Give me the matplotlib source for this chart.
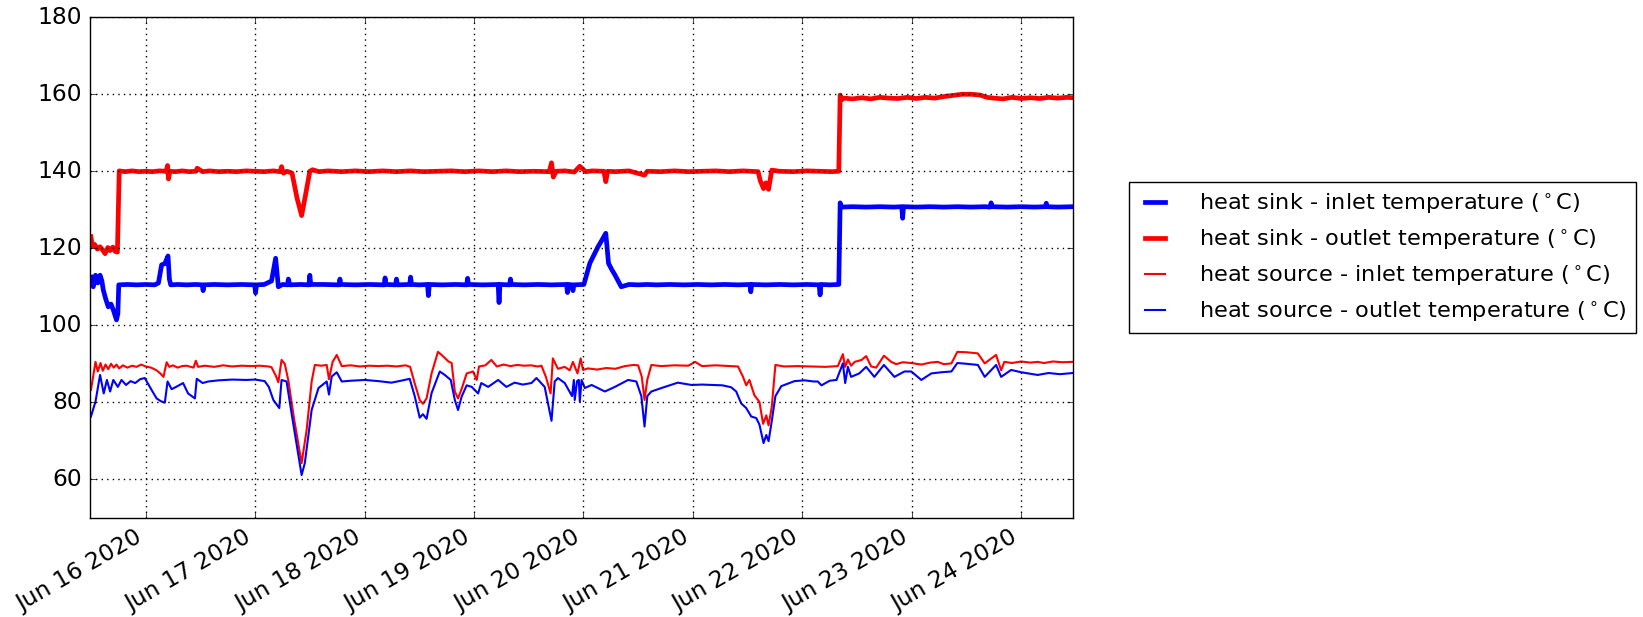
import numpy as np
import matplotlib
matplotlib.use("Agg")
import matplotlib.pyplot as plt
import matplotlib.dates as mdates

# ---- data: hours since 2020-06-16 00:00 and temperatures (°C) ----
sink_out_h = [-12.0, -11.7, -11.2, -10.6, -10.0, -9.4, -8.9, -8.3, -7.8, -7.2,
              -6.7, -6.2, -6.0, -5.8, -4.5, -3.0, -1.5, 0.0, 1.5, 3.0,
              4.5, 4.8, 5.0, 5.3, 6.5, 8.0, 9.5, 11.0, 11.3, 12.5,
              14.0, 16.0, 18.0, 20.0, 22.0, 24.0, 26.0, 28.0, 29.5, 29.8,
              30.2, 31.0, 32.1, 33.2, 34.2, 35.0, 36.0, 36.6, 38.0, 40.0,
              43.0, 46.0, 49.0, 52.0, 55.0, 58.0, 61.0, 64.0, 67.0, 70.0,
              73.0, 76.0, 79.0, 82.0, 85.0, 88.5, 89.0, 89.4, 90.0, 92.0,
              94.0, 95.2, 96.5, 98.0, 100.5, 100.9, 101.3, 103.0, 106.0, 109.4,
              110.0, 113.0, 116.0, 119.0, 122.0, 125.0, 128.0, 131.0, 134.3, 134.8,
              135.5, 136.0, 136.6, 137.3, 139.0, 142.0, 145.0, 148.0, 150.5, 152.0,
              152.3, 152.6, 153.2, 155.0, 157.0, 159.0, 161.0, 163.0, 165.0, 167.0,
              169.0, 171.0, 173.0, 175.0, 177.0, 179.0, 181.0, 183.0, 184.5, 186.0,
              188.0, 190.0, 192.0, 194.0, 196.0, 198.0, 200.0, 202.0, 203.3]
sink_out_v = [123.0, 120.5, 121.0, 119.8, 120.4, 119.5, 118.6, 120.2, 119.4, 120.3,
              119.2, 119.0, 130.0, 140.1, 139.9, 140.1, 139.9, 140.0, 139.9, 140.1,
              140.0, 141.5, 138.0, 140.0, 139.9, 140.1, 139.9, 140.0, 140.8, 139.9,
              140.1, 139.9, 140.0, 139.9, 140.1, 140.0, 139.9, 140.1, 139.9, 141.2,
              139.5, 140.0, 139.5, 133.0, 128.5, 133.5, 140.0, 140.4, 139.9, 140.1,
              139.9, 140.1, 139.9, 140.1, 139.9, 140.1, 139.9, 140.0, 140.1, 139.9,
              140.1, 139.9, 140.1, 139.9, 140.0, 139.9, 142.2, 138.5, 140.0, 140.1,
              139.8, 141.3, 139.9, 140.1, 140.0, 137.3, 140.0, 139.9, 140.1, 139.0,
              140.0, 139.9, 140.1, 139.9, 140.0, 140.1, 139.9, 140.1, 139.9, 137.5,
              135.5, 137.0, 135.3, 140.3, 140.0, 139.9, 140.1, 140.0, 139.9, 140.0,
              159.8, 158.6, 159.0, 158.8, 159.1, 158.8, 159.2, 159.0, 158.9, 159.2,
              158.9, 159.2, 159.0, 159.4, 159.7, 160.0, 160.0, 159.8, 159.2, 159.0,
              158.8, 159.2, 158.9, 159.1, 158.9, 159.2, 159.0, 159.2, 159.1]

sink_in_h = [-12.0, -11.5, -11.0, -10.5, -10.0, -9.6, -9.3, -8.8, -8.2, -7.6,
             -7.1, -6.7, -6.4, -6.1, -5.9, -4.0, -2.0, 0.0, 2.0, 2.8,
             3.5, 4.2, 4.9, 5.2, 5.5, 7.0, 9.0, 11.0, 12.4, 12.6,
             12.8, 15.0, 18.0, 21.0, 23.9, 24.1, 24.3, 26.0, 27.6, 28.5,
             29.1, 30.0, 31.1, 31.3, 31.6, 34.0, 35.8, 36.0, 36.2, 39.0,
             42.4, 42.6, 42.8, 46.0, 49.0, 52.3, 52.5, 52.7, 54.8, 55.0,
             55.2, 57.9, 58.1, 58.3, 60.0, 61.8, 62.0, 62.2, 65.0, 68.0,
             70.4, 70.6, 70.8, 74.0, 77.3, 77.5, 77.7, 79.8, 80.0, 80.2,
             83.0, 86.0, 89.0, 92.3, 92.5, 92.7, 93.5, 93.7, 93.9, 96.1,
             97.4, 98.4, 99.2, 100.0, 100.9, 101.5, 102.2, 102.9, 104.3, 106.0,
             108.0, 110.0, 112.0, 115.0, 118.0, 121.0, 124.0, 127.0, 130.0, 132.5,
             132.7, 132.9, 136.0, 139.0, 142.0, 145.0, 147.7, 147.9, 148.1, 150.0,
             152.0, 152.3, 152.6, 155.0, 158.0, 161.0, 164.0, 165.8, 166.0, 166.2,
             169.0, 172.0, 175.0, 178.0, 181.0, 184.0, 185.2, 185.4, 185.6, 189.0,
             192.0, 195.0, 197.3, 197.5, 197.7, 200.0, 203.3]
sink_in_v = [112.5, 110.0, 113.0, 111.0, 113.0, 111.5, 109.2, 107.0, 104.8, 105.5,
             104.0, 102.5, 101.4, 103.0, 110.5, 110.6, 110.5, 110.6, 110.5, 111.0,
             115.7, 116.0, 118.0, 112.0, 110.5, 110.6, 110.5, 110.6, 110.5, 109.0,
             110.5, 110.6, 110.5, 110.6, 110.5, 108.4, 110.5, 110.6, 111.5, 117.4,
             110.0, 110.6, 110.5, 112.0, 110.5, 110.6, 110.5, 113.0, 110.6, 110.6,
             110.5, 112.0, 110.6, 110.5, 110.6, 110.5, 112.3, 110.6, 110.5, 112.0,
             110.5, 110.6, 112.5, 110.6, 110.5, 110.6, 107.7, 110.6, 110.5, 110.6,
             110.5, 112.2, 110.6, 110.5, 110.6, 105.9, 110.6, 110.5, 112.0, 110.6,
             110.5, 110.6, 110.5, 110.6, 108.5, 110.6, 110.5, 109.0, 110.5, 110.6,
             116.1, 118.5, 120.4, 122.0, 123.9, 116.1, 114.5, 113.1, 110.0, 110.6,
             110.5, 110.6, 110.5, 110.6, 110.5, 110.6, 110.5, 110.6, 110.5, 110.6,
             108.7, 110.6, 110.5, 110.6, 110.5, 110.6, 110.5, 107.9, 110.6, 110.5,
             110.6, 131.8, 130.7, 130.8, 130.7, 130.8, 130.7, 130.8, 127.8, 130.8,
             130.7, 130.8, 130.7, 130.8, 130.7, 130.8, 130.7, 131.8, 130.8, 130.7,
             130.8, 130.7, 130.8, 131.7, 130.8, 130.7, 130.8]

src_in_h = [-12.0, -11.0, -10.5, -9.9, -9.4, -8.8, -8.2, -7.6, -7.0, -6.4,
            -5.8, -5.0, -4.0, -3.0, -2.0, -1.0, 0.0, 1.2, 2.4, 3.2,
            3.9, 4.6, 5.2, 6.0, 7.0, 8.0, 9.0, 10.5, 11.0, 11.5,
            13.0, 15.0, 17.0, 19.0, 21.0, 23.0, 25.0, 27.0, 27.6, 28.5,
            29.1, 29.8, 30.5, 31.3, 32.5, 34.2, 35.3, 36.4, 37.1, 38.5,
            39.7, 40.2, 41.0, 41.9, 43.0, 45.0, 47.0, 49.0, 51.0, 53.0,
            55.0, 57.0, 58.0, 59.0, 60.1, 60.8, 61.6, 62.7, 64.1, 64.9,
            66.4, 67.1, 67.8, 68.5, 69.3, 70.4, 71.8, 72.6, 73.1, 74.5,
            75.8, 77.0, 78.5, 80.0, 81.5, 83.0, 84.5, 86.0, 86.8, 87.8,
            88.8, 89.3, 90.4, 91.9, 93.0, 93.7, 94.7, 95.4, 95.9, 97.0,
            99.0, 101.0, 103.0, 105.1, 107.0, 108.0, 108.8, 109.4, 110.0, 110.9,
            113.0, 116.0, 119.0, 120.5, 122.0, 125.0, 128.0, 129.9, 131.0, 131.7,
            132.4, 133.5, 134.6, 135.4, 136.1, 136.6, 137.3, 138.1, 140.0, 143.0,
            146.0, 149.0, 151.8, 152.9, 153.4, 154.0, 154.7, 155.5, 157.0, 158.0,
            159.1, 160.2, 161.9, 163.5, 164.6, 166.0, 167.9, 170.1, 172.0, 173.7,
            175.0, 176.7, 178.0, 180.0, 182.5, 184.0, 185.0, 186.5, 187.6, 188.3,
            190.0, 192.0, 194.0, 195.6, 197.0, 199.0, 201.0, 203.3]
src_in_v = [83.2, 90.5, 88.0, 90.2, 88.2, 89.8, 88.6, 90.0, 89.0, 89.8,
            88.8, 89.6, 89.0, 89.5, 89.2, 89.8, 89.3, 89.0, 88.3, 87.5,
            86.6, 90.4, 89.2, 89.6, 89.0, 89.4, 89.5, 89.0, 90.8, 89.2,
            89.5, 89.2, 89.6, 89.3, 89.5, 89.4, 89.5, 89.3, 89.1, 87.0,
            85.2, 91.0, 90.0, 85.6, 76.0, 64.2, 72.8, 85.4, 89.7, 89.5,
            89.7, 86.0, 90.5, 92.3, 89.4, 89.6, 89.3, 89.5, 89.4, 89.5,
            89.3, 89.6, 89.2, 84.9, 80.6, 79.6, 81.0, 87.5, 93.1, 92.3,
            90.6, 90.2, 82.8, 81.0, 83.5, 87.5, 88.0, 85.8, 89.3, 89.6,
            91.0, 89.3, 89.8, 89.4, 89.7, 89.5, 89.6, 89.3, 89.5, 86.5,
            82.3, 91.4, 88.7, 89.2, 88.3, 90.5, 87.5, 91.4, 88.4, 88.8,
            88.5, 88.9, 88.7, 89.4, 89.7, 89.6, 86.6, 80.6, 85.8, 89.7,
            89.4, 89.6, 89.5, 90.5, 89.4, 89.6, 89.4, 89.3, 86.6, 84.4,
            85.8, 81.8, 80.1, 74.4, 76.6, 74.0, 78.8, 89.7, 89.3, 89.4,
            89.3, 89.2, 89.4, 92.5, 89.2, 91.1, 89.5, 90.5, 91.0, 92.0,
            89.3, 89.0, 92.1, 90.5, 89.9, 90.4, 90.2, 89.8, 90.3, 90.5,
            89.9, 90.1, 93.1, 93.0, 92.7, 90.1, 91.0, 92.3, 88.3, 90.5,
            90.2, 90.6, 90.3, 90.5, 90.2, 90.6, 90.4, 90.5]

src_out_h = [-12.0, -11.0, -10.0, -9.2, -8.5, -7.8, -7.1, -6.1, -5.3, -4.3,
             -3.3, -2.3, -1.2, -0.2, 1.3, 2.4, 3.3, 4.2, 4.8, 5.7,
             7.0, 8.2, 9.3, 10.8, 11.2, 12.5, 13.7, 16.0, 19.0, 22.0,
             24.0, 26.1, 27.0, 28.0, 29.3, 29.8, 30.9, 32.0, 34.2, 34.9,
             36.4, 37.9, 39.7, 40.2, 40.8, 41.9, 43.0, 45.0, 48.1, 51.0,
             53.9, 56.0, 57.9, 59.0, 60.1, 60.8, 61.6, 62.7, 64.5, 65.6,
             66.9, 67.8, 68.5, 69.3, 70.4, 71.5, 72.9, 73.6, 75.1, 77.3,
             79.1, 80.9, 82.7, 84.6, 85.7, 87.5, 89.0, 89.7, 90.4, 91.9,
             93.5, 93.9, 94.1, 94.6, 95.0, 95.2, 95.6, 96.3, 97.8, 100.7,
             102.9, 105.8, 107.6, 108.7, 109.4, 110.0, 110.9, 113.1, 116.7, 119.7,
             122.0, 124.1, 126.5, 128.4, 129.5, 130.6, 131.7, 132.8, 133.9, 134.6,
             135.5, 136.1, 136.6, 137.3, 138.1, 139.4, 142.3, 144.5, 146.5, 147.4,
             148.2, 150.0, 151.5, 152.9, 153.4, 154.0, 154.7, 156.5, 158.0, 159.8,
             161.9, 164.2, 166.4, 167.9, 170.1, 172.3, 174.5, 176.7, 178.0, 180.0,
             182.5, 184.0, 186.5, 187.6, 189.8, 192.0, 195.6, 198.0, 200.5, 203.3]
src_out_v = [76.3, 80.2, 87.1, 82.3, 85.8, 82.8, 85.8, 84.0, 85.8, 84.5,
             85.5, 85.0, 86.0, 86.3, 83.2, 81.0, 80.3, 79.9, 85.4, 83.4,
             84.2, 85.0, 82.3, 81.0, 86.1, 85.0, 85.4, 85.7, 85.9, 85.8,
             85.9, 85.5, 84.0, 80.6, 78.5, 85.8, 85.4, 77.1, 61.1, 64.2,
             78.0, 83.7, 85.4, 82.0, 86.7, 87.8, 85.4, 85.6, 85.8, 85.5,
             85.1, 85.6, 86.1, 81.6, 76.0, 76.9, 75.7, 82.4, 88.0, 87.1,
             85.8, 80.6, 78.0, 81.5, 84.4, 84.0, 82.3, 85.0, 84.0, 85.8,
             84.0, 85.1, 84.6, 85.0, 86.3, 84.0, 75.2, 85.4, 86.3, 85.0,
             81.6, 85.8, 80.6, 85.5, 85.8, 80.2, 85.8, 83.7, 84.5, 82.8,
             84.0, 85.8, 85.4, 81.6, 73.7, 81.6, 82.8, 83.7, 85.1, 84.5,
             84.6, 84.5, 84.4, 83.9, 82.8, 79.7, 78.5, 76.3, 75.9, 74.2,
             69.4, 71.5, 69.9, 75.1, 81.6, 84.2, 85.5, 85.7, 85.4, 85.4,
             84.4, 85.6, 85.8, 90.1, 85.0, 89.2, 86.6, 87.5, 89.2, 86.6,
             89.7, 86.6, 88.0, 88.0, 85.8, 87.5, 87.8, 88.0, 90.2, 90.0,
             89.7, 86.6, 89.7, 86.6, 88.4, 87.8, 87.1, 87.6, 87.3, 87.6]

labels = ["heat sink - inlet temperature ($^\\circ$C)",
          "heat sink - outlet temperature ($^\\circ$C)",
          "heat source - inlet temperature ($^\\circ$C)",
          "heat source - outlet temperature ($^\\circ$C)"]
y_ticks = [60, 80, 100, 120, 140, 160, 180]

BASE = np.datetime64("2020-06-16T00:00")


def to_time(hours):
    return BASE + (np.asarray(hours) * 60).round().astype("timedelta64[m]")


plt.style.use("classic")
plt.rcParams["font.family"] = ["DejaVu Sans"]
plt.rcParams["font.size"] = 16
plt.rcParams["mathtext.fontset"] = "dejavusans"

fig = plt.figure(figsize=(16.43, 6.17), dpi=100, facecolor="white")
ax = fig.add_axes([0.0548, 0.1608, 0.5981, 0.8112])

ax.plot(to_time(sink_in_h), sink_in_v, color="b", lw=3.4, label=labels[0])
ax.plot(to_time(sink_out_h), sink_out_v, color="r", lw=3.4, label=labels[1])
ax.plot(to_time(src_in_h), src_in_v, color="r", lw=1.5, label=labels[2])
ax.plot(to_time(src_out_h), src_out_v, color="b", lw=1.5, label=labels[3])

ax.set_xlim(to_time([-12.2])[0], to_time([203.3])[0])
ax.set_ylim(50, 180)
ax.set_yticks(y_ticks)
ax.xaxis.set_major_locator(mdates.DayLocator())
ax.xaxis.set_major_formatter(mdates.DateFormatter("%b %d %Y"))
for lab in ax.get_xticklabels():
    lab.set_rotation(30)
    lab.set_ha("right")
ax.tick_params(labelsize=16.8, pad=6)
ax.grid(True, linestyle=":", color="k", lw=1.0)

leg = ax.legend(loc="center left", bbox_to_anchor=(1.046, 0.52), fontsize=16.2,
                handlelength=1.5, handletextpad=1.2, frameon=True, fancybox=False)
leg.get_frame().set_edgecolor("k")

fig.savefig("out.png", dpi=100, facecolor="white")
